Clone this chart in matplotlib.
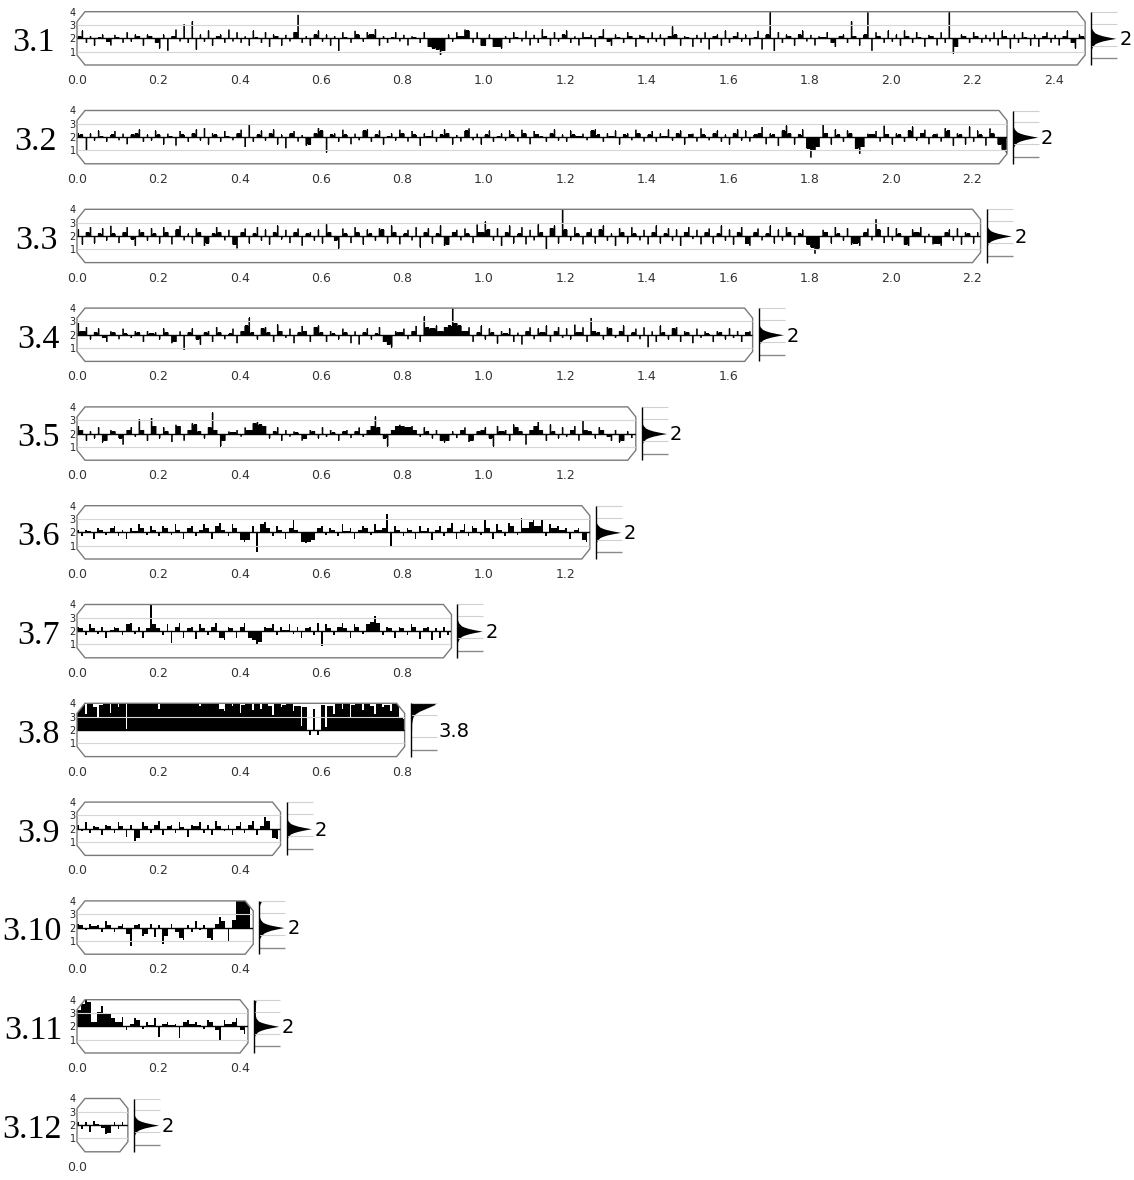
import numpy as np
import matplotlib
matplotlib.use('Agg')
import matplotlib.pyplot as plt
from matplotlib.patches import Polygon

# chromosome names, lengths (x units) and the copy number written next to each histogram
names = ['3.1', '3.2', '3.3', '3.4', '3.5', '3.6', '3.7', '3.8', '3.9', '3.10', '3.11', '3.12']
lengths = [2.477, 2.285, 2.22, 1.66, 1.373, 1.26, 0.92, 0.805, 0.50, 0.433, 0.42, 0.125]
mode_labels = ['2', '2', '2', '2', '2', '2', '2', '3.8', '2', '2', '2', '2']
bin_width = 0.01

# deviation from copy number 2 per bin, in tenths
dev_3_1 = [2, 6, -3, 2, -5, 1, 3, -2, -5, 3, 1, -3, 5, -2, 3, 2, -5, 3, 2, -3,
           -7, 3, -9, 2, 7, -2, 11, -3, 13, -8, 3, -2, 6, -5, 2, 3, -3, 7, -2, 5,
           -3, 2, -5, 6, 1, -3, 5, -6, 3, 2, -5, 3, -2, 5, 18, -3, 2, -5, 3, 6,
           -2, 3, -5, 2, -9, 5, 1, -3, 6, 3, -2, 5, 3, 7, -5, 2, -3, 1, 5, -2,
           3, -5, 2, 1, -3, 5, -6, -7, -8, -12, -9, 3, -2, 5, 2, 7, 6, -3, 5, -5,
           -5, 3, -6, -6, -7, 2, -3, 5, 1, -2, 6, -5, 3, -3, 7, 2, -5, 5, -2, 3,
           6, -3, 2, -5, 5, 1, 3, -6, 2, 7, -2, -5, 3, 1, -3, 5, 2, -6, 3, 2,
           -3, 5, -2, 3, -5, 2, 9, 3, -5, 2, 1, -6, 3, -3, 5, -8, 2, 3, -5, 6,
           -3, 2, 5, -2, 3, -5, 1, 6, -8, 3, 20, -9, 5, -3, 3, 2, -5, 3, 6, -2,
           3, -5, 2, 1, 5, -3, -6, 2, 3, -3, 13, 2, -5, 3, 20, -9, 5, 2, -3, 6,
           -2, 3, -5, 6, 2, -3, 5, 1, -6, 3, 2, -5, 5, -3, 20, -11, -6, 3, 2, -3,
           5, 2, -3, 3, -2, 5, -5, 6, 2, -7, 3, -3, 5, 1, -5, 3, -6, 2, 5, -3,
           3, -5, 2, 6, -3, -7, 3, 2]
dev_3_2 = [3, 2, -10, 3, -2, 5, 1, -3, 2, 5, -2, 3, -5, 2, 3, 6, -3, 2, -2, 5,
           2, -5, 3, 1, -6, 5, 2, -3, 3, 6, -2, 7, -5, 3, 2, -3, 5, 1, -2, 3,
           6, -7, 10, -3, 2, 5, -2, 3, 6, -5, 2, -8, 3, 5, -3, 2, -6, -5, 3, 7,
           5, -11, 2, 3, -3, 6, 2, -5, 3, -2, 5, 6, -3, 2, 5, -5, 1, 3, -2, 6,
           3, -3, 5, 2, -6, 3, 1, 5, -3, 2, 6, 3, -5, 2, -3, 5, 7, -2, 3, -5,
           2, 5, -3, 1, 3, -2, 5, 2, -3, 6, 3, -5, 5, 2, 1, -3, 3, 6, -2, 2,
           -3, 5, 2, 1, 3, -2, 5, 6, 2, -3, 3, 1, 5, -5, 2, 3, -2, 6, 3, -3,
           2, 5, -3, 3, 1, 6, -2, 3, 5, -5, 2, 3, -3, 7, 2, -2, 3, 5, -3, 2,
           -5, 3, 6, -2, 5, -3, 2, 3, 8, -5, 3, 2, -6, 5, 9, 3, -5, 2, 6, -8,
           -15, -10, -7, 10, 3, -5, 6, 2, -3, 5, 3, -8, -12, -7, 3, 2, 5, -3, 9, 2,
           -5, 3, 2, -3, 5, 8, -2, 3, 6, -5, 2, 3, -3, 7, 5, -6, 3, 2, -5, 8,
           -3, 5, 2, -6, 7, 3, -5, -9, -11]
dev_3_3 = [5, -6, 3, 7, -5, 2, 6, -3, 8, 2, -5, 3, 7, -2, -7, 5, 3, -3, 6, 2,
           -5, 7, 3, -6, 5, 8, -3, 2, -5, 6, 3, -7, -5, 2, 7, 3, -3, 5, -6, -9,
           3, 6, -5, 2, 7, -3, 5, -6, 3, 8, -2, 5, -5, 3, 6, -7, 2, 3, -3, 5,
           -5, 9, 3, -3, -9, 6, 2, -5, 7, 3, -6, 5, 2, -3, 6, 5, -5, 8, 3, -6,
           2, 5, -3, 7, -8, 3, 6, -5, 2, 8, -7, -6, 3, 5, -3, 6, 2, -5, 9, 3,
           11, 5, -3, 6, -7, 3, 8, -5, 2, 7, -6, 5, -3, 9, 3, -10, 6, 8, -5, 20,
           5, -3, 7, 2, -6, 3, 6, -5, 5, 8, -3, 2, -7, 6, 3, -5, 7, 2, -3, 5,
           -6, 3, 8, -5, 2, 6, -3, 5, -7, 3, 7, -2, 5, -6, 3, 6, -5, 2, 8, -3,
           5, -6, 3, 7, -5, -7, 3, 6, -3, 2, 8, -5, 5, -3, 7, 3, -6, 2, 5, -6,
           -8, -13, -9, 5, 3, -5, 7, 2, -3, 6, -6, -5, -7, 3, 6, -3, 13, 5, -5, 7,
           -3, 6, 2, -6, -7, 5, 3, 7, -5, 2, -6, -5, -7, 3, 5, -3, 6, -6, 3, 2,
           -5, 3]
dev_3_4 = [9, 3, 6, -3, 2, 5, -2, -5, 3, 2, -3, 5, 1, -2, 3, 2, -5, 3, 1, 2,
           -3, 5, 2, -6, -5, 3, -11, 2, 5, -3, -7, 2, 3, -5, 6, 2, -3, 1, 5, -6,
           3, 7, 13, 2, -3, 5, 6, 2, -5, 8, 3, -2, 5, -6, 2, 7, 3, -5, 6, 7,
           2, -5, 3, 1, -3, 5, 2, -6, 3, -7, 2, 5, -3, 1, 6, -5, -7, -9, 3, 2,
           5, -3, 3, 7, -5, 14, 6, 5, 7, 3, 6, 7, 20, 9, 7, 3, 6, -5, 2, 7,
           -3, 5, 2, -6, 3, 1, 5, -5, 2, -7, 3, 6, -3, 5, 2, 7, -5, 3, 6, -2,
           5, -3, 8, 2, 6, -5, 13, 3, 2, -3, 6, 5, -2, 3, 7, -5, 2, 5, -3, 6,
           -9, 3, -5, 7, 2, -3, 5, 6, -5, 3, 2, -6, 5, -2, 3, 1, -5, 3, 2, -3,
           5, -2, 3, -5, 2, 3]
dev_3_5 = [6, 3, -5, 2, -3, 5, -6, -5, 3, 2, -3, -8, 3, 5, -2, 11, 3, -5, 12, 6,
           -3, 5, 2, -6, 7, 6, -5, 3, 8, 7, 2, -3, 5, 16, 3, -9, -5, 2, 1, 3,
           -2, 5, 3, 8, 9, 7, 6, -3, 2, 5, -5, 3, -2, 2, 1, -5, -3, 3, 2, -3,
           5, -2, 3, 1, -5, 2, 3, -3, 2, 5, -2, 3, 6, 13, 5, -3, -9, 3, 6, 7,
           6, 5, 6, 3, -2, 5, 2, -3, 3, -5, -6, -5, 2, -3, 3, 5, -6, -5, 2, 3,
           5, -3, -9, 6, 2, 3, -5, 7, 5, 2, -8, 3, 6, 9, 3, -5, 7, 2, -3, 5,
           -2, 3, 6, -5, 10, 3, 2, -3, 5, 3, -2, -5, 3, -6, -5, 2, -3]
dev_3_6 = [2, -3, 2, 1, -5, 3, 2, -2, 3, 5, -3, 2, -5, 3, 1, 6, 3, -2, 5, 2,
           -3, 5, 3, -2, 6, 2, -5, 3, 5, -3, 2, 6, 3, -5, 5, 7, 2, -3, 6, 3,
           -6, -7, -6, 5, -15, 6, 8, 3, -3, 5, 2, -5, 3, 10, 2, -7, -8, -7, -6, 3,
           5, -2, 3, 2, -3, 6, 1, 3, -5, 2, 5, 3, -2, 6, 2, 3, 14, -10, 5, 2,
           -3, 3, 2, -5, 5, 1, 3, -6, 2, 5, -3, 3, 7, -5, 2, 6, -3, 5, 3, -2,
           10, 3, -5, 6, 2, -3, 7, 5, -2, 11, 3, 8, 9, 5, 9, -3, 6, 3, 5, 2,
           3, -5, 2, 3, -6, -7]
dev_3_7 = [3, 2, -3, 5, 2, -2, 3, -5, 1, 3, 2, -3, 5, 6, -2, 3, -5, 2, 20, 5,
           2, -3, 5, -9, 3, 6, -5, 2, 3, -6, 5, 2, -3, 3, 6, -5, -7, 3, 2, -5,
           3, 6, -5, -7, -10, -8, 3, 2, 5, -3, 3, 1, 5, -2, 3, -5, 2, 3, -3, 6,
           -11, 5, 2, -3, 3, 6, 2, -5, 5, 3, -2, 5, 7, 11, 6, -3, 3, 2, -5, 3,
           2, -3, 5, 3, -6, 2, 3, -7, 2, -5, 3, -3]
dev_3_8 = [15, 20, 12, 20, 17, 10, 19, 20, 13, 20, 17, 20, 1, 20, 20, 20, 20, 20, 20, 20,
           16, 20, 20, 20, 20, 20, 20, 20, 20, 20, 18, 20, 20, 20, 20, 16, 14, 20, 18, 20,
           13, 19, 20, 15, 20, 16, 20, 18, 11, 20, 17, 19, 20, 14, 18, 3, 17, -4, 16, -4,
           19, 2, 18, 12, 20, 16, 20, 10, 19, 20, 15, 20, 18, 12, 20, 17, 19, 14, 20, 10,
           8]
dev_3_9 = [3, -2, 5, -3, 2, 1, -5, 3, 2, -3, 5, 2, -6, 3, -9, -7, 5, 2, -3, 3,
           6, -5, 2, 3, -3, 5, 1, -6, 3, 2, 5, -3, 3, -5, 6, 2, -2, 3, -5, 2,
           5, -3, 3, 6, -5, 2, 9, 6, -7, -8]
dev_3_10 = [3, 2, -2, 3, 1, 2, -3, 5, 2, -3, 1, 3, -5, -14, 2, 3, -6, -5, 3, -7,
            2, -12, -6, 3, -3, -8, -9, 2, -3, 5, -2, 2, -8, -9, 3, 8, 5, -10, 6,
            20, 20, 20, 20]
dev_3_11 = [12, 17, 20, 18, 3, 11, 15, 10, 9, 6, 3, 7, -3, 2, 6, 5, -2, 3, 1, 6,
            -8, 2, 3, 1, 2, -9, 3, 5, 2, 3, 1, -2, 5, 3, -3, -10, 5, 2, 3, 6,
            -3, -6]
dev_3_12 = [2, -3, 2, -5, 3, 1, -2, -7, -6, 2, -3, 2]

devs = [dev_3_1, dev_3_2, dev_3_3, dev_3_4, dev_3_5, dev_3_6,
        dev_3_7, dev_3_8, dev_3_9, dev_3_10, dev_3_11, dev_3_12]

# side histograms: relative density at each copy-number level
hist_levels = [0.0, 1.0, 1.2, 1.4, 1.6, 1.7, 1.8, 1.9, 2.0, 2.1, 2.2, 2.3, 2.4,
               2.6, 2.8, 3.0, 3.2, 3.4, 3.6, 3.8, 3.9, 4.0]
dens_cn2 = [0, 0, 0.01, 0.06, 0.16, 0.28, 0.45, 0.7, 1.0, 0.7, 0.45, 0.28, 0.16,
            0.06, 0.01, 0, 0, 0, 0, 0, 0, 0]
dens_3_8 = [0, 0, 0, 0, 0, 0, 0, 0.02, 0.04, 0.04, 0.04, 0.04, 0.04,
            0.05, 0.07, 0.1, 0.18, 0.35, 0.6, 0.85, 0.97, 1.0]
dens_3_10 = [0, 0, 0.02, 0.08, 0.2, 0.32, 0.48, 0.72, 1.0, 0.68, 0.42, 0.25, 0.14,
             0.05, 0.01, 0, 0, 0, 0, 0.04, 0.07, 0.09]
dens_3_11 = [0, 0, 0.01, 0.06, 0.16, 0.28, 0.45, 0.7, 1.0, 0.72, 0.48, 0.3, 0.18,
             0.09, 0.06, 0.06, 0.06, 0.06, 0.06, 0.07, 0.08, 0.09]
hist_dens = [dens_cn2] * 7 + [dens_3_8, dens_cn2, dens_3_10, dens_3_11, dens_cn2]

# how the space between two bins of the same sign is filled (3.8 is almost solid)
gap_rule = ['min'] * 7 + ['max'] + ['min'] * 4
# right edge (px) of the row names
name_right = [55, 57, 58, 60, 60, 60, 60, 60, 60, 62, 62, 62]

W, H = 1134, 1180
fig = plt.figure(figsize=(W / 100, H / 100), dpi=100)

ppu = 407.0        # pixels per x unit
left_px = 77.0
top0 = 11.7
row_step = 98.8
panel_h = 53.3
cx = 8.0 / ppu     # chamfer of the chromosome outline
cy = 0.75
bar_frac = 0.4

for i, name in enumerate(names):
    L = lengths[i]
    top = top0 + i * row_step
    bottom = 1 - (top + panel_h) / H
    ax = fig.add_axes([left_px / W, bottom, L * ppu / W, panel_h / H])
    ax.set_xlim(0, L)
    ax.set_ylim(0, 4)
    for s in ax.spines.values():
        s.set_visible(False)

    shape = [(0, cy), (0, 4 - cy), (cx, 4), (L - cx, 4), (L, 4 - cy),
             (L, cy), (L - cx, 0), (cx, 0)]
    clip = Polygon(shape, closed=True, transform=ax.transData)

    gl = ax.hlines([1, 3], 0, L, color='#d6d6d6', lw=0.8)
    gl.set_clip_path(clip)

    d = np.array(devs[i]) / 10.0
    n = len(d)
    same = np.sign(d[:-1]) == np.sign(d[1:])
    if gap_rule[i] == 'max':
        mag = np.maximum(np.abs(d[:-1]), np.abs(d[1:]))
    else:
        mag = np.minimum(np.abs(d[:-1]), np.abs(d[1:]))
    gap = np.append(np.where(same, np.sign(d[:-1]) * mag, 0.0), 0.0)
    xs, ys = [], []
    for k in range(n):
        xs += [k * bin_width, (k + bar_frac) * bin_width]
        ys += [2 + d[k], 2 + gap[k]]
    xs.append(n * bin_width)
    ys.append(2.0)
    fb = ax.fill_between(xs, 2, ys, step='post', color='black', lw=0)
    fb.set_clip_path(clip)

    bl = ax.hlines(2, 0, L, color='black', lw=1.0)
    bl.set_clip_path(clip)

    ax.add_patch(Polygon(shape, closed=True, fill=False, edgecolor='#7a7a7a',
                         lw=1.0, clip_on=False))

    ax.set_yticks([1, 2, 3, 4])
    ax.set_yticklabels(['1', '2', '3', '4'])
    ax.tick_params(axis='y', length=0, pad=1, labelsize=7, labelcolor='#222222')
    xt = np.arange(0, L + 1e-6, 0.2)
    ax.set_xticks(xt)
    ax.set_xticklabels(['%.1f' % v for v in xt])
    ax.tick_params(axis='x', length=0, pad=6.5, labelsize=9, labelcolor='#333333')

    fig.text(name_right[i] / W, 1 - (top + 39.5) / H, name, ha='right',
             va='baseline', fontsize=24.5, family='Liberation Serif')

    # density of copy numbers on the right
    hleft = left_px + L * ppu + 6
    hax = fig.add_axes([hleft / W, bottom, 26 / W, panel_h / H])
    hax.set_xlim(0, 1.05)
    hax.set_ylim(0, 4)
    hax.axis('off')
    hax.hlines([4, 3.1, 1.45], 0, 1.05, color='#d0d0d0', lw=0.8, clip_on=False)
    hax.hlines(0.5, 0, 1.05, color='#8a8a8a', lw=1.0, clip_on=False)
    hax.fill_betweenx(hist_levels, 0, hist_dens[i], color='black', lw=0)
    hax.vlines(0, 0, 4, color='black', lw=1.0, clip_on=False)
    fig.text((hleft + 28) / W, 1 - (top + 33.5) / H, mode_labels[i],
             ha='left', va='baseline', fontsize=14)

fig.savefig('out.png', dpi=100)
